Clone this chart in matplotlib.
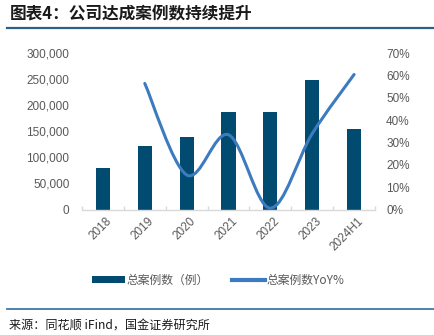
import numpy as np
import matplotlib
matplotlib.use("Agg")
import matplotlib.pyplot as plt
from matplotlib.path import Path
from matplotlib.patches import PathPatch, Patch
from matplotlib.lines import Line2D
from matplotlib.ticker import FuncFormatter, MultipleLocator
import matplotlib.transforms as mtransforms

plt.rcParams['font.family'] = ['Liberation Sans', 'Noto Sans CJK SC', 'DejaVu Sans']

categories = ['2018', '2019', '2020', '2021', '2022', '2023', '2024H1']
cases = [80000, 121000, 140000, 186500, 186500, 249000, 155500]
yoy = [np.nan, 56.5, 15.5, 33.5, 0.6, 34.0, 60.5]

bar_color = '#014a70'
line_color = '#3c7bbf'
grey_text = '#595959'

fig = plt.figure(figsize=(4.34, 3.35), dpi=100)
ax = fig.add_axes([82/434, 1-209.5/335, (375-82)/434, (209.5-53.3)/335])
ax2 = ax.twinx()

x = np.arange(len(categories))
ax.bar(x, cases, width=0.34, color=bar_color, zorder=2)
ax.set_xlim(-0.5, len(categories)-0.5)
ax.set_ylim(0, 300000)
ax.yaxis.set_major_locator(MultipleLocator(50000))
ax.yaxis.set_major_formatter(FuncFormatter(lambda v, p: f"{int(v):,}"))
ax2.set_ylim(0, 70)
ax2.yaxis.set_major_locator(MultipleLocator(10))
ax2.yaxis.set_major_formatter(FuncFormatter(lambda v, p: f"{int(round(v))}%"))

for a in (ax, ax2):
    for s in ('top', 'left', 'right'):
        a.spines[s].set_visible(False)
    a.spines['bottom'].set_visible(False)
ax.spines['bottom'].set_visible(True)
ax.spines['bottom'].set_color('#d9d9d9')
ax.spines['bottom'].set_linewidth(1.0)

ax.tick_params(axis='y', length=0, pad=9, labelsize=8.5, labelcolor=grey_text)
ax2.tick_params(axis='y', length=0, pad=8, labelsize=8.5, labelcolor=grey_text)

# x ticks: marks at boundaries, labels at centers
ax.set_xticks(np.arange(-0.5, len(categories), 1.0))
ax.set_xticklabels([])
ax.tick_params(axis='x', which='major', direction='in', length=3, color='#d9d9d9', width=1)
ax.set_xticks(x, minor=True)
ax.set_xticklabels(categories, minor=True, rotation=45, ha='right', va='top',
                   rotation_mode='anchor', fontsize=8.5, color=grey_text)
ax.tick_params(axis='x', which='minor', length=0, pad=4)
offset = mtransforms.ScaledTranslation(3/100, 0, fig.dpi_scale_trans)
for lbl in ax.get_xticklabels(minor=True):
    lbl.set_transform(lbl.get_transform() + offset)

# smoothed line (Bezier through data points, drawn in data coordinates)
pts = [(xi, yi) for xi, yi in zip(x, yoy) if not np.isnan(yi)]
P = np.array(pts, dtype=float)
n = len(P)
verts = [tuple(P[0])]
codes = [Path.MOVETO]
for i in range(n-1):
    p0 = P[i-1] if i > 0 else P[i]
    p1 = P[i]
    p2 = P[i+1]
    p3 = P[i+2] if i+2 < n else P[i+1]
    c1 = p1 + (p2 - p0) / 6.0
    c2 = p2 - (p3 - p1) / 6.0
    verts += [tuple(c1), tuple(c2), tuple(p2)]
    codes += [Path.CURVE4] * 3
ax2.add_patch(PathPatch(Path(verts, codes), fill=False, edgecolor=line_color,
                        linewidth=2.2, capstyle='round', joinstyle='round', zorder=3))

# legend
handles = [Patch(facecolor=bar_color, edgecolor='none'),
           Line2D([0], [0], color=line_color, linewidth=3)]
labels = ['总案例数（例）', '总案例数YoY%']
fig.legend(handles, labels, loc='center', bbox_to_anchor=(218/434, 1-280/335), ncol=2,
           frameon=False, fontsize=8.5, labelcolor=grey_text, handlelength=2.8,
           handleheight=0.5, handletextpad=0.1, columnspacing=2.0,
           prop={'family': ['Noto Sans CJK SC', 'DejaVu Sans'], 'size': 8.5})

# title and decorations
fig.text(10/434, 1-14/335, '图表4：公司达成案例数持续提升', fontsize=12, fontweight='bold',
         color='#1a1a1a', ha='left', va='center', family=['Noto Sans CJK SC', 'DejaVu Sans'])
fig.add_artist(Line2D([7/434, 1.0], [1-27.5/335]*2, color='#2f5f85', linewidth=1.6))
fig.add_artist(Line2D([7/434, 1.0], [1-309/335]*2, color='#3f78a8', linewidth=1.3))
fig.text(9/434, 1-325/335, '来源：同花顺 iFind，国金证券研究所', fontsize=8.7, color='#1a1a1a',
         ha='left', va='center', family=['Noto Sans CJK SC', 'DejaVu Sans'])

fig.savefig('out.png', dpi=100)
